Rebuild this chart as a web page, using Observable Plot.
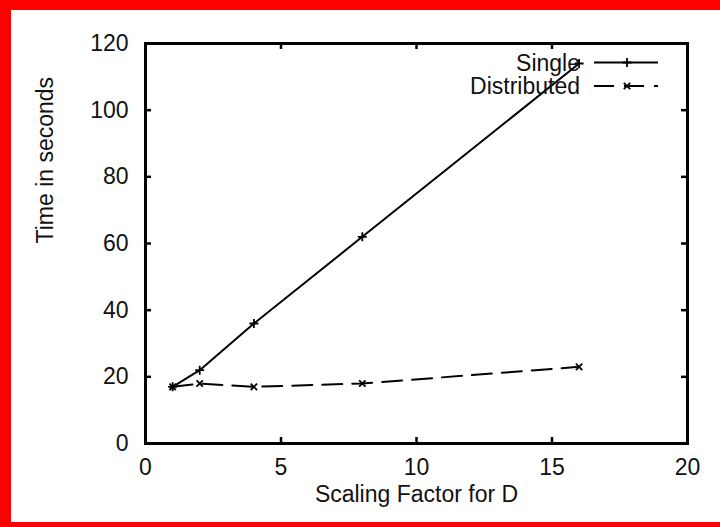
<!DOCTYPE html>
<html>
<head>
<meta charset="utf-8">
<script src="https://cdn.jsdelivr.net/npm/d3@7"></script>
<script src="https://cdn.jsdelivr.net/npm/@observablehq/plot@0.6"></script>
<style>
  html, body { margin: 0; padding: 0; background: #fff; }
  #frame {
    width: 720px; height: 527px; box-sizing: border-box;
    border-top: 10px solid #ff0000; border-left: 11px solid #ff0000;
    border-bottom: 5px solid #ff0000; border-right: none;
    background: #fff; overflow: hidden;
  }
  #frame svg { display: block; }
</style>
</head>
<body>
<div id="frame"></div>
<script>
// ---- data ----
const scalingFactors = [1, 2, 4, 8, 16];
const singleTimes = [17, 22, 36, 62, 114];
const distributedTimes = [17, 18, 17, 18, 23];
const seriesNames = ["Single", "Distributed"];
const xTicks = [0, 5, 10, 15, 20];
const yTicks = [0, 20, 40, 60, 80, 100, 120];
const xLabel = "Scaling Factor for D";
const yLabel = "Time in seconds";

const singleRows = scalingFactors.map((x, i) => ({x, y: singleTimes[i], series: seriesNames[0]}));
const distRows = scalingFactors.map((x, i) => ({x, y: distributedTimes[i], series: seriesNames[1]}));

const W = 709, H = 512;
const mL = 134, mR = 33, mT = 33, mB = 79;
const plotW = W - mL - mR, plotH = H - mT - mB;
const dash = "20,10";
const font = "'Liberation Sans', Arial, Helvetica, sans-serif";
const ink = "#111";

function legend(index, scales, values, dimensions) {
  const right = dimensions.width - dimensions.marginRight;
  const top = dimensions.marginTop;
  const g = d3.create("svg:g").attr("font-family", font).attr("font-size", 23).attr("fill", ink);
  const items = [
    {name: seriesNames[0], dash: null, sym: d3.symbolPlus},
    {name: seriesNames[1], dash: dash, sym: d3.symbolTimes}
  ];
  items.forEach((it, i) => {
    const y = top + 19.5 + i * 23.5;
    g.append("text").attr("x", right - 107).attr("y", y).attr("text-anchor", "end")
      .attr("dy", "0.35em").text(it.name);
    g.append("line").attr("x1", right - 93).attr("x2", right - 29).attr("y1", y).attr("y2", y)
      .attr("stroke", "black").attr("stroke-width", 2).attr("stroke-dasharray", it.dash);
    g.append("path").attr("transform", `translate(${right - 60},${y})`)
      .attr("d", d3.symbol(it.sym, 28)()).attr("fill", "none").attr("stroke", "black").attr("stroke-width", 1.8);
  });
  return g.node();
}

const chart = Plot.plot({
  width: W, height: H,
  marginLeft: mL, marginRight: mR, marginTop: mT, marginBottom: mB,
  style: {fontFamily: font, fontSize: "23px", color: ink, background: "white"},
  x: {domain: [0, 20], ticks: xTicks, tickSize: 0, tickPadding: 15, label: null},
  y: {domain: [0, 120], ticks: yTicks, tickSize: 0, tickPadding: 17, label: null},
  marks: [
    // inward mirrored ticks
    Plot.tickX(xTicks, {x: d => d, insetTop: plotH - 6, stroke: "black", strokeWidth: 2.5}),
    Plot.tickX(xTicks, {x: d => d, insetBottom: plotH - 6, stroke: "black", strokeWidth: 2.5}),
    Plot.tickY(yTicks, {y: d => d, insetRight: plotW - 6, stroke: "black", strokeWidth: 2.5}),
    Plot.tickY(yTicks, {y: d => d, insetLeft: plotW - 6, stroke: "black", strokeWidth: 2.5}),
    Plot.frame({stroke: "black", strokeWidth: 3}),
    // data
    Plot.line(singleRows, {x: "x", y: "y", stroke: "black", strokeWidth: 2}),
    Plot.line(distRows, {x: "x", y: "y", stroke: "black", strokeWidth: 2, strokeDasharray: dash}),
    Plot.dot(singleRows, {x: "x", y: "y", symbol: "plus", r: 3, stroke: "black", strokeWidth: 1.8}),
    Plot.dot(distRows, {x: "x", y: "y", symbol: "times", r: 3, stroke: "black", strokeWidth: 1.8}),
    // axis titles
    Plot.text([xLabel], {frameAnchor: "bottom", dy: 58, text: d => d, fontSize: 23, fill: ink}),
    Plot.text([yLabel], {frameAnchor: "left", dx: -100, rotate: -90, text: d => d, fontSize: 23, fill: ink}),
    legend
  ]
});
document.getElementById("frame").appendChild(chart);
</script>
</body>
</html>
